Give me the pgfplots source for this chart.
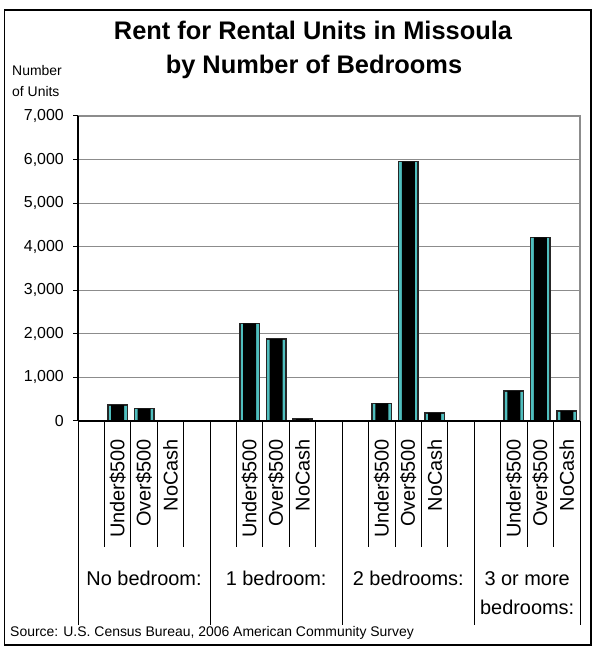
\documentclass[border=0pt]{standalone}
\usepackage{fontspec}
\setmainfont{Liberation Sans}
\usepackage{pgfplots}
\pgfplotsset{compat=1.18}
\definecolor{barcyan}{RGB}{80,190,190}
\definecolor{gridgray}{RGB}{140,140,140}
\begin{document}
\begin{tikzpicture}[x=1bp,y=1bp]
\useasboundingbox (0,0) rectangle (595,649);
\draw[line width=1.3bp] (4.5,4) rectangle (591,639);
\node[anchor=base, font=\bfseries\fontsize{25.5}{25.5}\selectfont, inner sep=0pt] at (313,609.5) {Rent for Rental Units in Missoula};
\node[anchor=base, font=\bfseries\fontsize{25.5}{25.5}\selectfont, inner sep=0pt] at (314,575) {by Number of Bedrooms};
\node[anchor=base west, font=\fontsize{14}{14}\selectfont, inner sep=0pt] at (12,573) {Number};
\node[anchor=base west, font=\fontsize{14}{14}\selectfont, inner sep=0pt] at (12,552) {of Units};
\node[anchor=base west, font=\fontsize{14}{14}\selectfont, inner sep=0pt] at (10,12) {Source: U.S. Census Bureau, 2006 American Community Survey};
\begin{axis}[
  at={(78bp,228bp)}, anchor=south west,
  scale only axis, width=502bp, height=305bp,
  xmin=-0.5, xmax=18.5, ymin=0, ymax=7000,
  axis line style={draw=none},
  clip=false,
  ytick={0,1000,...,7000},
  ymajorgrids, grid style={gridgray, line width=1bp},
  tick align=outside, major tick length=5bp,
  tick style={black, line width=1bp},
  xtick pos=bottom, ytick pos=left,
  xtick={1,2,3,6,7,8,11,12,13,16,17,18},
  xticklabels={Under\$500,Over\$500,NoCash,Under\$500,Over\$500,NoCash,Under\$500,Over\$500,NoCash,Under\$500,Over\$500,NoCash},
  xtick style={draw=none},
  x tick label style={rotate=90, anchor=east, font=\fontsize{20}{20}\selectfont, inner sep=0pt},
  xticklabel shift=13bp,
  y tick label style={font=\fontsize{16}{16}\selectfont, inner sep=0pt},
  yticklabel shift=9bp,
  /pgf/number format/1000 sep={,},
  /pgf/number format/assume math mode=true,
]
\addplot[ybar, bar width=19.5bp, bar shift=0pt, fill=barcyan, draw=black!85, line width=1.5bp]
  coordinates {(1,367) (2,282) (3,0) (6,2240) (7,1880) (8,45) (11,405) (12,5950) (13,185) (16,690) (17,4215) (18,230)};
\addplot[ybar, bar width=13bp, bar shift=0pt, fill=black, draw=none]
  coordinates {(1,367) (2,282) (3,0) (6,2240) (7,1880) (8,45) (11,405) (12,5950) (13,185) (16,690) (17,4215) (18,230)};
\pgfplotsinvokeforeach{-0.5,0.5,1.5,2.5,3.5,4.5,5.5,6.5,7.5,8.5,9.5,10.5,11.5,12.5,13.5,14.5,15.5,16.5,17.5,18.5}{
  \draw[black, line width=1bp] (axis cs:#1,0) -- ++(0pt,-126bp);
}
\pgfplotsinvokeforeach{-0.5,4.5,9.5,14.5,18.5}{
  \draw[black, line width=1bp] (axis cs:#1,0) -- ++(0pt,-204bp);
}
\draw[gridgray, line width=1.8bp] (rel axis cs:0,1) -- (rel axis cs:1,1) -- (rel axis cs:1,0);
\draw[black, line width=1.2bp] (rel axis cs:0,0) -- (rel axis cs:0,1);
\draw[black, line width=1.2bp] (rel axis cs:0,0) -- (rel axis cs:1,0);
\node[anchor=north, font=\fontsize{20}{29}\selectfont, inner sep=0pt] at (axis cs:2,0) [yshift=-150bp] {No bedroom:};
\node[anchor=north, font=\fontsize{20}{29}\selectfont, inner sep=0pt] at (axis cs:7,0) [yshift=-150bp] {1 bedroom:};
\node[anchor=north, font=\fontsize{20}{29}\selectfont, inner sep=0pt] at (axis cs:12,0) [yshift=-150bp] {2 bedrooms:};
\node[anchor=north, font=\fontsize{20}{29}\selectfont, inner sep=0pt, align=center] at (axis cs:16.5,0) [yshift=-150bp] {3 or more\\bedrooms:};
\end{axis}
\end{tikzpicture}
\end{document}
